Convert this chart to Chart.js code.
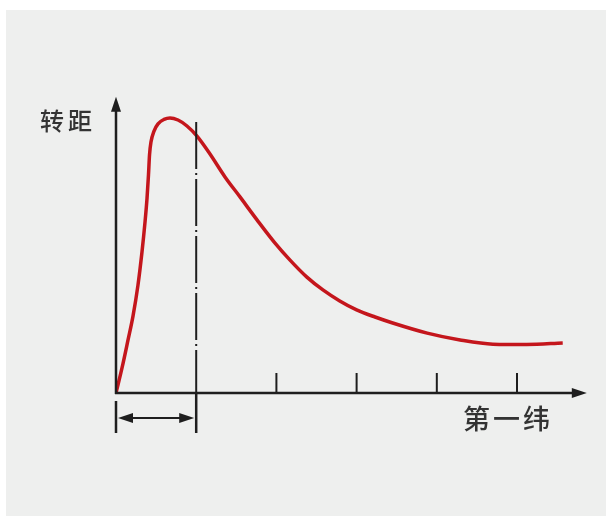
<!DOCTYPE html>
<html>
<head>
<meta charset="utf-8">
<script src="https://cdn.jsdelivr.net/npm/chart.js@4"></script>
<style>
  html, body { margin: 0; padding: 0; background: #fff; }
  body { width: 606px; height: 516px; position: relative; overflow: hidden; }
  .panel { position: absolute; left: 6px; top: 10px; width: 600px; height: 506px; background: #eeefee; }
  #torqueChart { position: absolute; left: 0; top: 0; }
</style>
</head>
<body>
<div class="panel"></div>
<canvas id="torqueChart" width="606" height="516"></canvas>
<script>
// Torque vs. weft position (x in tick units, y in % of axis height)
const weftPos = [0, 0.075, 0.150, 0.212, 0.274, 0.324, 0.362, 0.387, 0.405, 0.418, 0.436, 0.474, 0.524, 0.599,
  0.673, 0.773, 0.885, 1.01, 1.172, 1.359, 1.546, 1.758, 1.983, 2.17, 2.38, 2.58, 2.79, 3.00, 3.23, 3.45,
  3.88, 4.29, 4.70, 5.12, 5.57];
const torque = [0, 8.4, 17.8, 25.8, 36.2, 47.3, 57.4, 65.4, 73.2, 79.9, 84.2, 87.9, 90.3, 91.8,
  92.3, 91.6, 89.6, 86.2, 80.2, 72.5, 65.8, 58.1, 50.3, 44.6, 38.9, 34.6, 30.9, 27.9, 25.5, 23.5,
  20.1, 17.8, 16.4, 16.3, 16.8];
const xTicks = [1, 2, 3, 4, 5];
const startRange = [0, 1];
const yLabel = '转距';
const xLabel = '第一纬';

const axisColor = '#1e1e1e';
const curveColor = '#c4161c';

function arrowHead(ctx, x, y, dx, dy, len, half) {
  // filled triangle pointing along (dx, dy)
  const px = -dy, py = dx;
  ctx.beginPath();
  ctx.moveTo(x, y);
  ctx.lineTo(x - dx * len + px * half, y - dy * len + py * half);
  ctx.lineTo(x - dx * len - px * half, y - dy * len - py * half);
  ctx.closePath();
  ctx.fill();
}

const axesPlugin = {
  id: 'sketchAxes',
  afterDatasetsDraw(chart) {
    const ctx = chart.ctx;
    const xs = chart.scales.x;
    const ys = chart.scales.y;
    const x0 = xs.getPixelForValue(0);
    const y0 = ys.getPixelForValue(0);
    const yTop = ys.getPixelForValue(99.4);
    const xEnd = xs.getPixelForValue(5.87);

    ctx.save();
    ctx.strokeStyle = axisColor;
    ctx.fillStyle = axisColor;
    ctx.lineWidth = 2.5;
    ctx.lineCap = 'butt';

    // y axis
    ctx.beginPath();
    ctx.moveTo(x0, y0 + 1);
    ctx.lineTo(x0, yTop + 10);
    ctx.stroke();
    arrowHead(ctx, x0, yTop, 0, -1, 15, 5);

    // x axis
    ctx.beginPath();
    ctx.moveTo(x0 - 1, y0);
    ctx.lineTo(xEnd - 10, y0);
    ctx.stroke();
    arrowHead(ctx, xEnd, y0, 1, 0, 15, 5);

    // ticks pointing up
    ctx.lineWidth = 2;
    xTicks.slice(1).forEach(t => {
      const px = xs.getPixelForValue(t);
      ctx.beginPath();
      ctx.moveTo(px, y0);
      ctx.lineTo(px, y0 - 20);
      ctx.stroke();
    });

    // dash-dot marker at end of start range
    const xm = xs.getPixelForValue(startRange[1]);
    ctx.setLineDash([47, 4, 2, 4]);
    ctx.beginPath();
    ctx.moveTo(xm, ys.getPixelForValue(90.9));
    ctx.lineTo(xm, y0);
    ctx.stroke();
    ctx.setLineDash([]);

    // bracket below axis
    const xs0 = xs.getPixelForValue(startRange[0]);
    ctx.lineWidth = 2.5;
    ctx.beginPath();
    ctx.moveTo(xm, y0);
    ctx.lineTo(xm, y0 + 40);
    ctx.moveTo(xs0, y0 + 8);
    ctx.lineTo(xs0, y0 + 40);
    ctx.stroke();

    // double arrow
    const ya = y0 + 25;
    ctx.lineWidth = 2;
    ctx.beginPath();
    ctx.moveTo(xs0 + 8, ya);
    ctx.lineTo(xm - 8, ya);
    ctx.stroke();
    arrowHead(ctx, xs0 + 2, ya, -1, 0, 15, 5);
    arrowHead(ctx, xm - 2, ya, 1, 0, 15, 5);

    // labels
    ctx.fillStyle = '#333';
    ctx.textBaseline = 'middle';
    ctx.textAlign = 'left';
    ctx.font = '500 24px "Noto Sans CJK SC"';
    ctx.letterSpacing = '4px';
    ctx.fillText(yLabel, 40, ys.getPixelForValue(91.3));
    ctx.font = '500 27px "Noto Sans CJK SC"';
    ctx.letterSpacing = '3px';
    ctx.fillText(xLabel, 463, y0 + 26);
    ctx.restore();
  }
};

const points = weftPos.map((w, i) => ({ x: w, y: torque[i] }));

new Chart(document.getElementById('torqueChart'), {
  type: 'line',
  data: {
    datasets: [{
      data: points,
      borderColor: curveColor,
      borderWidth: 3.5,
      pointRadius: 0,
      fill: false,
      cubicInterpolationMode: 'monotone'
    }]
  },
  options: {
    responsive: false,
    animation: false,
    layout: { padding: { left: 116, top: 95, right: 16, bottom: 123 } },
    scales: {
      x: { type: 'linear', min: 0, max: 5.91, display: false },
      y: { min: 0, max: 100, display: false }
    },
    plugins: {
      legend: { display: false },
      tooltip: { enabled: false }
    }
  },
  plugins: [axesPlugin]
});
</script>
</body>
</html>
